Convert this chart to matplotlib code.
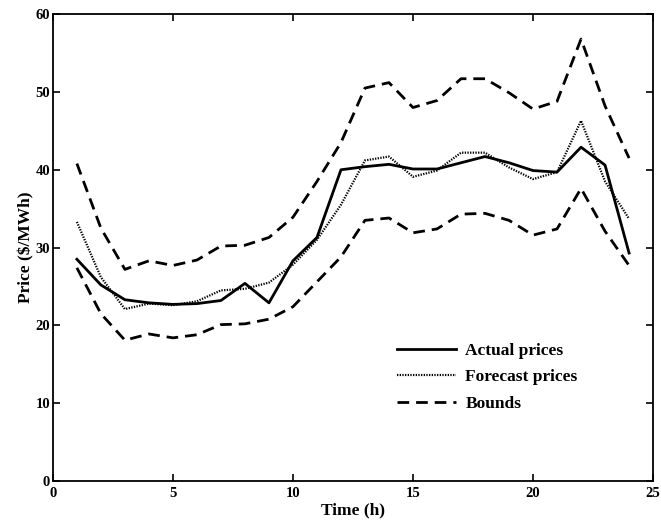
import matplotlib
matplotlib.use("Agg")
import matplotlib.pyplot as plt

hours = list(range(1, 25))
actual = [28.5, 25.2, 23.3, 22.9, 22.7, 22.8, 23.2, 25.4, 22.9, 28.3, 31.3, 40.0,
          40.4, 40.7, 40.1, 40.1, 40.9, 41.7, 40.9, 39.9, 39.7, 42.9, 40.6, 29.3]
forecast = [33.3, 26.2, 22.1, 22.8, 22.6, 23.1, 24.5, 24.7, 25.5, 27.8, 31.0, 35.5,
            41.2, 41.7, 39.1, 39.9, 42.2, 42.2, 40.3, 38.8, 39.7, 46.3, 38.5, 33.7]
upper = [40.8, 32.5, 27.2, 28.3, 27.7, 28.4, 30.2, 30.3, 31.3, 33.9, 38.5, 43.5,
         50.5, 51.2, 48.0, 48.9, 51.7, 51.7, 49.9, 47.8, 48.8, 56.8, 48.2, 41.5]
lower = [27.4, 21.5, 18.1, 18.9, 18.4, 18.8, 20.1, 20.2, 20.8, 22.4, 25.6, 28.8,
         33.5, 33.8, 31.9, 32.4, 34.3, 34.4, 33.5, 31.6, 32.4, 37.6, 32.1, 27.7]
xticks = [0, 5, 10, 15, 20, 25]
yticks = [0, 10, 20, 30, 40, 50, 60]

plt.rcParams['font.family'] = ['Liberation Serif', 'DejaVu Serif']

fig = plt.figure(figsize=(6.61, 5.24), dpi=100)
ax = fig.add_axes([0.080, 0.082, 0.908, 0.891])

ax.plot(hours, actual, color='black', lw=2.0, label='Actual prices')
ax.plot(hours, forecast, color='black', lw=1.6, linestyle=(0, (0.6, 0.6)), label='Forecast prices')
ax.plot(hours, upper, color='black', lw=2.0, linestyle=(0, (4.2, 2.5)), label='Bounds')
ax.plot(hours, lower, color='black', lw=2.0, linestyle=(0, (4.2, 2.5)))

ax.set_xlim(0, 25)
ax.set_ylim(0, 60)
ax.set_xticks(xticks)
ax.set_yticks(yticks)
ax.tick_params(direction='in', top=True, right=True, length=5, width=1.2,
               labelsize=10.5)
ax.tick_params(axis='x', pad=4)
ax.tick_params(axis='y', pad=2)
for lab in ax.get_xticklabels() + ax.get_yticklabels():
    lab.set_fontweight('bold')
for s in ax.spines.values():
    s.set_linewidth(1.3)

ax.set_xlabel('Time (h)', fontsize=12.5, fontweight='bold', labelpad=2)
ax.set_ylabel('Price ($/MWh)', fontsize=12.5, fontweight='bold', labelpad=1)

leg = ax.legend(loc='center left', bbox_to_anchor=(0.573, 0.222), frameon=False,
                borderpad=0, borderaxespad=0, handlelength=3.4, handletextpad=0.55,
                labelspacing=0.6, prop={'size': 12.5, 'weight': 'bold'})

fig.savefig('out.png', dpi=100)
